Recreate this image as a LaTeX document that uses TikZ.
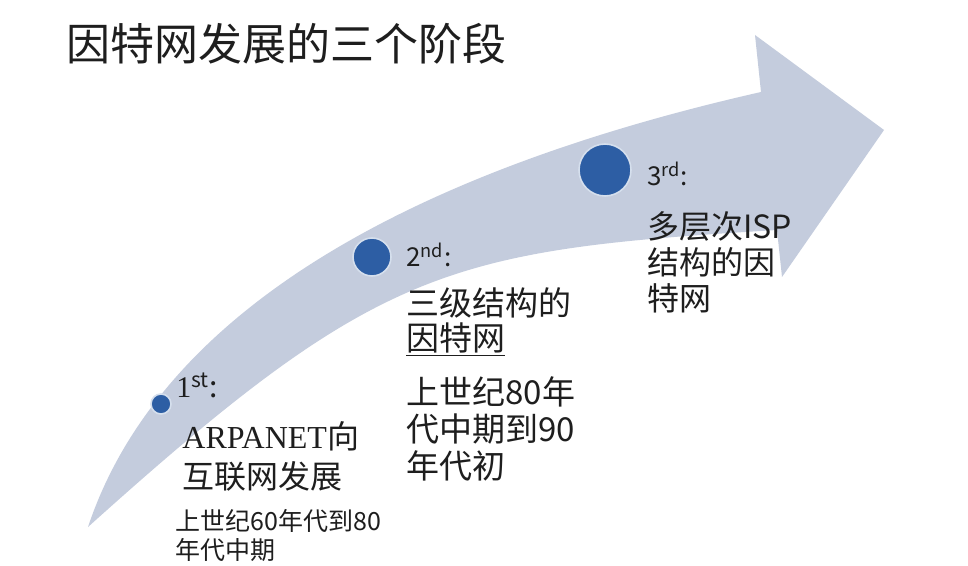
\documentclass[tikz,border=0pt]{standalone}
\usepackage{fontspec}
\setmainfont{Noto Sans CJK SC}
\newfontfamily\serifen{Liberation Serif}
\definecolor{arrowgray}{RGB}{196,204,221}
\definecolor{dotblue}{RGB}{45,94,164}
\definecolor{textdark}{RGB}{30,30,30}

\begin{document}
\begin{tikzpicture}[
    x=0.5pt, y=-0.5pt,
    stagedot/.style={circle, draw=white!80!dotblue, fill=dotblue, line width=0.8pt, inner sep=0pt},
    stagetext/.style={anchor=north west, inner sep=0pt, align=left, text=textdark}
]
\fill[white] (0,0) rectangle (968,566);
\useasboundingbox (0,0) rectangle (968,566);

\fill[arrowgray] (88,527) .. controls (168,287) and (461,160) .. (761,92)
    -- (755,35) -- (884,130) -- (782,277) -- (777,230)
    .. controls (447,250) and (378,266) .. (88,527) -- cycle;

\node[stagetext, font=\fontsize{22}{26}\selectfont] (title) at (66,23) {因特网发展的三个阶段};

\node[stagedot, minimum size=10pt] (dot1) at (161,404) {};
\node[stagedot, minimum size=19pt] (dot2) at (372,257) {};
\node[stagedot, minimum size=26pt] (dot3) at (605,170) {};

\node[stagetext, font=\fontsize{15}{18}\selectfont] (label1) at (176,372) {{\serifen 1}\textsuperscript{st}:};
\node[stagetext, font=\fontsize{16}{20}\selectfont] (name1) at (182,421) {{\serifen ARPANET}向\\互联网发展};
\node[stagetext, font=\fontsize{12.5}{14.5}\selectfont] (time1) at (175,509) {上世纪60年代到80\\年代中期};

\node[stagetext, font=\fontsize{13}{16}\selectfont] (label2) at (406,243) {2\textsuperscript{nd}:};
\node[stagetext, font=\fontsize{16.5}{17.5}\selectfont] (name2) at (406,287) {三级结构的\\\underline{因特网}};
\node[stagetext, font=\fontsize{16.5}{18.5}\selectfont] (time2) at (406,376) {上世纪80年\\代中期到90\\年代初};

\node[stagetext, font=\fontsize{13}{16}\selectfont] (label3) at (647,162) {3\textsuperscript{rd}:};
\node[stagetext, font=\fontsize{16}{18}\selectfont] (name3) at (647,211) {多层次ISP\\结构的因\\特网};

\end{tikzpicture}
\end{document}
